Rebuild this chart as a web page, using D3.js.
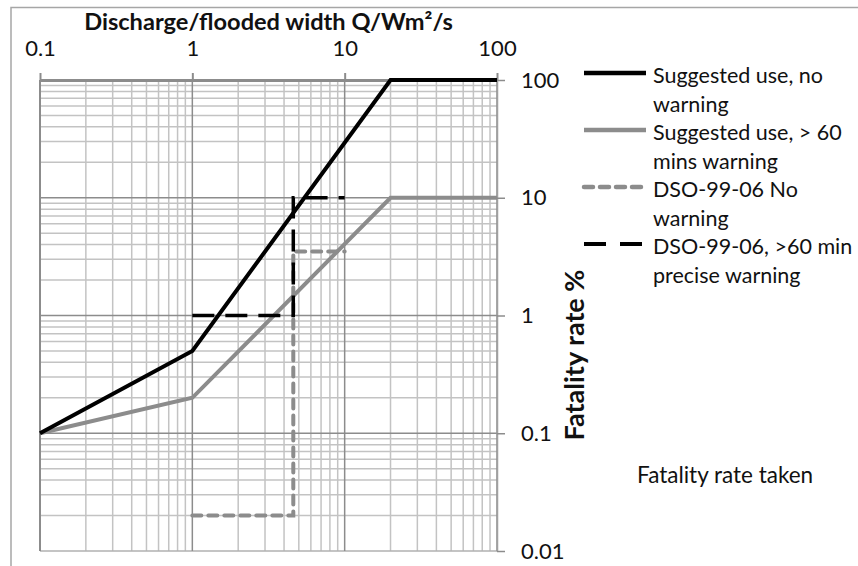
<!DOCTYPE html>
<html>
<head>
<meta charset="utf-8">
<script src="https://cdn.jsdelivr.net/npm/d3@7"></script>
<style>
  body { margin: 0; background: #fff; }
  text { font-family: Lato, "Open Sans", sans-serif; fill: #111; }
</style>
</head>
<body>
<svg id="chart" width="858" height="566"></svg>
<script>
// ---- data ----
var xTicks = [0.1, 1, 10, 100];
var yTicks = [0.01, 0.1, 1, 10, 100];

var noWarnX = [0.1, 1, 20, 100];
var noWarnY = [0.1, 0.5, 100, 100];

var warnX = [0.1, 1, 20, 100];
var warnY = [0.1, 0.2, 10, 10];

var dsoNoX = [1, 4.6, 4.6, 10];
var dsoNoY = [0.02, 0.02, 3.5, 3.5];

var dsoWarnX = [1, 4.6, 4.6, 10];
var dsoWarnY = [1, 1, 10, 10];

var seriesNames = [
  ["Suggested use, no", "warning"],
  ["Suggested use, > 60", "mins warning"],
  ["DSO-99-06 No", "warning"],
  ["DSO-99-06, >60 min", "precise warning"]
];

var svg = d3.select("#chart");

var x = d3.scaleLog().domain([0.1, 100]).range([40, 497]);
var y = d3.scaleLog().domain([0.01, 100]).range([551, 80]);

// outer frame (only top and left visible)
svg.append("path")
  .attr("d", "M11,566V7.5H858")
  .attr("fill", "none")
  .attr("stroke", "#a6a6a6")
  .attr("stroke-width", 1.5);

// minor grid values 2..9 per decade
function minors(lo, hi) {
  var out = [];
  for (var d = lo; d < hi; d *= 10) {
    for (var k = 2; k <= 9; k++) out.push(d * k);
  }
  return out;
}
var xMinor = minors(0.1, 100);
var yMinor = minors(0.01, 100);

var grid = svg.append("g");

grid.selectAll(".vminor").data(xMinor).enter().append("line")
  .attr("x1", function(d) { return x(d); })
  .attr("x2", function(d) { return x(d); })
  .attr("y1", y(100)).attr("y2", y(0.01))
  .attr("stroke", "#c3c3c3").attr("stroke-width", 1.5);

grid.selectAll(".hminor").data(yMinor).enter().append("line")
  .attr("y1", function(d) { return y(d); })
  .attr("y2", function(d) { return y(d); })
  .attr("x1", x(0.1)).attr("x2", x(100))
  .attr("stroke", "#c3c3c3").attr("stroke-width", 1.5);

grid.selectAll(".hmajor").data(yTicks.slice(0, 4)).enter().append("line")
  .attr("y1", function(d) { return y(d); })
  .attr("y2", function(d) { return y(d); })
  .attr("x1", x(0.1)).attr("x2", x(100))
  .attr("stroke", function(d) { return d == 0.01 ? "#b0b0b0" : "#8c8c8c"; })
  .attr("stroke-width", 1.5);

grid.selectAll(".vmajor").data(xTicks).enter().append("line")
  .attr("x1", function(d) { return x(d); })
  .attr("x2", function(d) { return x(d); })
  .attr("y1", y(100)).attr("y2", y(0.01))
  .attr("stroke", "#8c8c8c").attr("stroke-width", function(d) { return d == 0.1 ? 2 : 1.5; });

// top axis with labels
var xAxis = d3.axisTop(x)
  .tickValues(xTicks)
  .tickFormat(d3.format("~g"))
  .tickSizeInner(7).tickSizeOuter(0).tickPadding(17);

var xAxisGroup = svg.append("g")
  .attr("transform", "translate(0," + y(100) + ")")
  .call(xAxis);
xAxisGroup.select(".domain").attr("stroke", "#8c8c8c").attr("stroke-width", 3);
xAxisGroup.selectAll(".tick line").attr("stroke", "#8c8c8c").attr("stroke-width", 2);
xAxisGroup.selectAll(".tick text")
  .attr("fill", "#111").attr("font-size", 22)
  .attr("font-family", "Lato, sans-serif");

// right axis with labels
var yAxis = d3.axisRight(y)
  .tickValues(yTicks)
  .tickFormat(d3.format("~g"))
  .tickSizeInner(8).tickSizeOuter(0).tickPadding(16);

var yAxisGroup = svg.append("g")
  .attr("transform", "translate(" + x(100) + ",0)")
  .call(yAxis);
yAxisGroup.select(".domain").attr("stroke", "#a0a0a0").attr("stroke-width", 1.5);
yAxisGroup.selectAll(".tick line").attr("stroke", "#8c8c8c").attr("stroke-width", 1.5);
yAxisGroup.selectAll(".tick text")
  .attr("fill", "#111").attr("font-size", 22)
  .attr("font-family", "Lato, sans-serif");

// series
var line = d3.line()
  .x(function(d) { return x(d[0]); })
  .y(function(d) { return y(d[1]); });

var styles = [
  { stroke: "#000", width: 4, dash: null, cap: "butt" },
  { stroke: "#8c8c8c", width: 4, dash: null, cap: "butt" },
  { stroke: "#8c8c8c", width: 4, dash: "9,7", cap: "round" },
  { stroke: "#000", width: 3.5, dash: "22,11", cap: "butt" }
];

var series = [
  d3.zip(noWarnX, noWarnY),
  d3.zip(warnX, warnY),
  d3.zip(dsoNoX, dsoNoY),
  d3.zip(dsoWarnX, dsoWarnY)
];

// draw order: gray dashed under black dashed
[1, 0, 2, 3].forEach(function(i) {
  svg.append("path")
    .datum(series[i])
    .attr("d", line)
    .attr("fill", "none")
    .attr("stroke", styles[i].stroke)
    .attr("stroke-width", styles[i].width)
    .attr("stroke-dasharray", styles[i].dash)
    .attr("stroke-linecap", styles[i].cap)
    .attr("stroke-linejoin", "miter");
});

// titles
svg.append("text")
  .attr("x", (x(0.1) + x(100)) / 2)
  .attr("y", 30)
  .attr("text-anchor", "middle")
  .attr("font-size", 23.6)
  .attr("font-weight", "bold")
  .text("Discharge/flooded width Q/Wm²/s");

svg.append("text")
  .attr("transform", "translate(584,355) rotate(-90)")
  .attr("text-anchor", "middle")
  .attr("font-size", 27)
  .attr("font-weight", "bold")
  .text("Fatality rate %");

svg.append("text")
  .attr("x", 637)
  .attr("y", 483)
  .attr("font-size", 22.5)
  .text("Fatality rate taken");

// legend
var legend = svg.append("g");
seriesNames.forEach(function(names, i) {
  var ly = 73 + i * 57;
  legend.append("line")
    .attr("x1", 584).attr("x2", 646)
    .attr("y1", ly).attr("y2", ly)
    .attr("stroke", styles[i].stroke)
    .attr("stroke-width", styles[i].width + 0.5)
    .attr("stroke-dasharray", i == 3 ? "22,14" : styles[i].dash)
    .attr("stroke-linecap", styles[i].cap);
  var t = legend.append("text")
    .attr("x", 653).attr("y", ly + 10)
    .attr("font-size", 21.5);
  names.forEach(function(n, j) {
    t.append("tspan").attr("x", 653).attr("dy", j == 0 ? 0 : 28.5).text(n);
  });
});
</script>
</body>
</html>
